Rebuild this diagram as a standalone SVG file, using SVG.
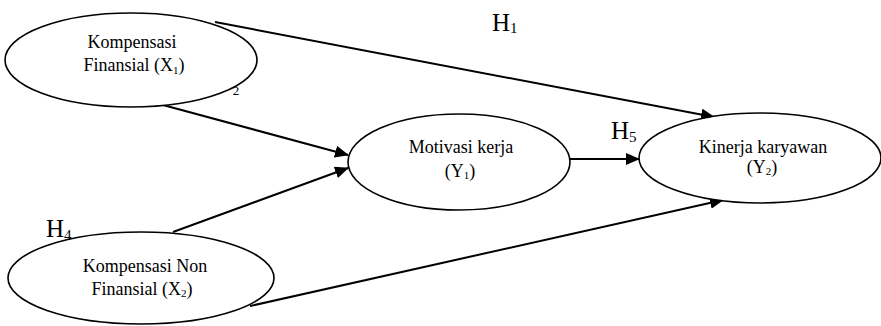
<svg xmlns="http://www.w3.org/2000/svg" width="881" height="326" viewBox="0 0 881 326">
  <style>
    .node ellipse { fill: #fff; stroke: #000; stroke-width: 1.6; }
    .lbl { font-family: "Liberation Serif", "Times New Roman", serif; font-size: 18px; fill: #000; text-anchor: middle; }
    .h { font-family: "Liberation Serif", "Times New Roman", serif; font-size: 25px; fill: #000; }
    .sub { font-size: 11px; }
    .hsub { font-size: 15px; }
    .edge { stroke: #000; stroke-width: 2; fill: none; marker-end: url(#arr); }
  </style>
  <defs>
    <marker id="arr" markerUnits="userSpaceOnUse" markerWidth="14" markerHeight="12" refX="13" refY="6" orient="auto">
      <path d="M0,0 L14,6 L0,12 z" fill="#000"/>
    </marker>
  </defs>
  <rect width="881" height="326" fill="#fff"/>
  <g id="connectors">
    <line class="edge" x1="215" y1="22" x2="714" y2="117"/>
    <line class="edge" x1="163" y1="105" x2="348" y2="155"/>
    <line class="edge" x1="173" y1="232" x2="348" y2="168"/>
    <line class="edge" x1="250" y1="306" x2="723" y2="200"/>
    <line class="edge" x1="570" y1="159" x2="639" y2="159"/>
  </g>
  <g id="x1" class="node">
    <ellipse cx="131" cy="60" rx="126" ry="47"/>
    <text class="lbl" x="132" y="48">Kompensasi</text>
    <text class="lbl" x="134" y="71">Finansial (X<tspan class="sub" dy="3">1</tspan><tspan dy="-3">)</tspan></text>
  </g>
  <g id="x2" class="node">
    <ellipse cx="141" cy="278" rx="133" ry="46"/>
    <text class="lbl" x="145" y="272">Kompensasi Non</text>
    <text class="lbl" x="142" y="295">Finansial (X<tspan class="sub" dy="2">2</tspan><tspan dy="-2">)</tspan></text>
  </g>
  <g id="y1" class="node">
    <ellipse cx="459" cy="162" rx="111" ry="48"/>
    <text class="lbl" x="461" y="153">Motivasi kerja</text>
    <text class="lbl" x="460" y="177">(Y<tspan class="sub" dy="2">1</tspan><tspan dy="-2">)</tspan></text>
  </g>
  <g id="y2" class="node">
    <ellipse cx="760" cy="158" rx="121" ry="45"/>
    <text class="lbl" x="763" y="153">Kinerja karyawan</text>
    <text class="lbl" x="762" y="173">(Y<tspan class="sub" dy="2">2</tspan><tspan dy="-2">)</tspan></text>
  </g>
  <g id="labels">
    <text class="h" x="492" y="31">H<tspan class="hsub" dy="2">1</tspan></text>
    <text class="h" x="611" y="139">H<tspan class="hsub" dy="3">5</tspan></text>
    <text class="h" x="46" y="237">H<tspan class="hsub" dy="3">4</tspan></text>
    <text class="lbl" x="236" y="95" style="font-size:13px">2</text>
  </g>
</svg>
